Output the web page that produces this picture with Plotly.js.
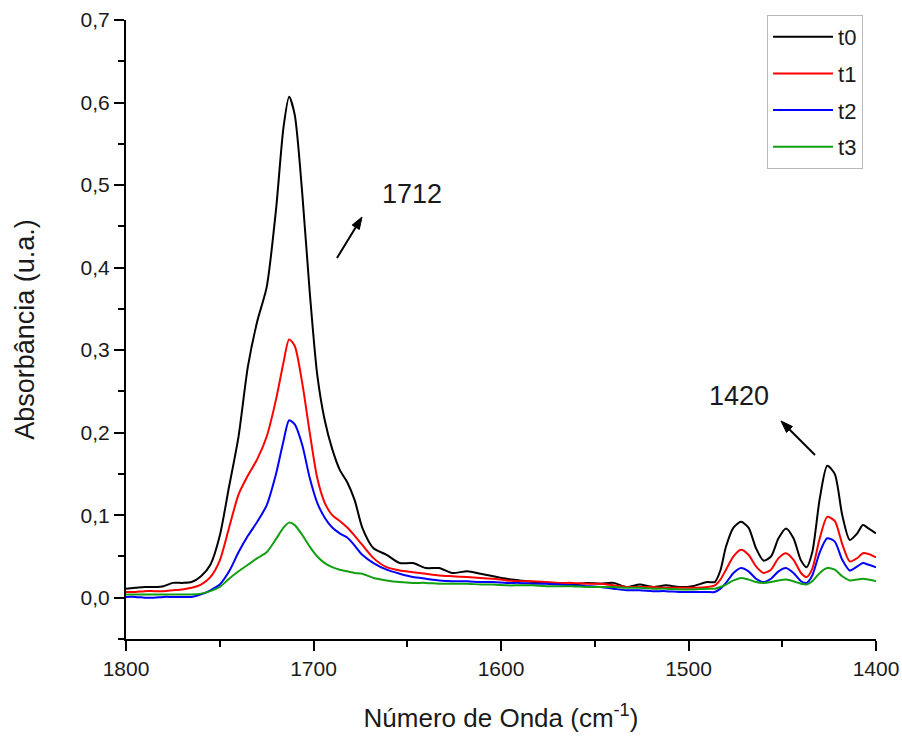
<!DOCTYPE html>
<html>
<head>
<meta charset="utf-8">
<script src="https://cdn.plot.ly/plotly-3.0.1.min.js"></script>
<style>html,body{margin:0;padding:0;background:#fff;}#chart{width:902px;height:747px;}</style>
</head>
<body>
<div id="chart"></div>
<script>
const wavenumber = [
  1800,1795,1790,1785,1780,1775,1770,1765,1760,1755,
  1750,1745,1740,1735,1730,1725,1720,1716,1713,1710,
  1706,1702,1698,1694,1690,1686,1682,1678,1674,1668,
  1661,1654,1647,1640,1633,1626,1618,1611,1604,1597,
  1590,1583,1576,1569,1562,1554,1547,1540,1533,1526,
  1519,1512,1505,1498,1490,1486,1483,1480,1476,1472,
  1468,1464,1460,1456,1452,1448,1444,1440,1437,1434,
  1430,1426,1422,1418,1414,1410,1407,1404,1400
];
const t0 = [
  0.011,0.012,0.013,0.013,0.014,0.018,0.018,0.019,0.026,0.040,
  0.075,0.135,0.195,0.280,0.335,0.376,0.470,0.570,0.607,0.585,
  0.490,0.370,0.270,0.215,0.180,0.155,0.140,0.118,0.085,0.060,
  0.052,0.042,0.042,0.036,0.036,0.030,0.032,0.029,0.026,0.023,
  0.021,0.019,0.018,0.017,0.016,0.018,0.017,0.018,0.013,0.016,
  0.013,0.015,0.013,0.014,0.019,0.019,0.033,0.062,0.085,0.092,
  0.085,0.060,0.045,0.050,0.072,0.084,0.072,0.045,0.037,0.055,
  0.120,0.160,0.150,0.100,0.070,0.078,0.088,0.084,0.078
];
const t1 = [
  0.007,0.007,0.008,0.008,0.008,0.009,0.010,0.012,0.016,0.025,
  0.045,0.085,0.125,0.148,0.168,0.195,0.240,0.285,0.313,0.305,
  0.260,0.200,0.145,0.115,0.100,0.093,0.085,0.075,0.064,0.048,
  0.037,0.033,0.031,0.029,0.027,0.026,0.025,0.024,0.023,0.021,
  0.020,0.020,0.019,0.018,0.018,0.017,0.017,0.015,0.013,0.013,
  0.013,0.012,0.012,0.012,0.013,0.015,0.022,0.034,0.050,0.058,
  0.052,0.038,0.030,0.034,0.048,0.054,0.046,0.030,0.025,0.035,
  0.072,0.098,0.093,0.065,0.044,0.048,0.054,0.053,0.049
];
const t2 = [
  0.001,0.001,0.000,0.000,0.001,0.001,0.001,0.001,0.004,0.009,
  0.016,0.032,0.055,0.075,0.092,0.112,0.150,0.190,0.215,0.210,
  0.185,0.145,0.115,0.097,0.085,0.078,0.073,0.063,0.052,0.042,
  0.034,0.029,0.025,0.023,0.021,0.020,0.020,0.019,0.019,0.018,
  0.018,0.017,0.017,0.016,0.015,0.014,0.013,0.011,0.009,0.009,
  0.008,0.008,0.007,0.007,0.007,0.007,0.011,0.018,0.030,0.036,
  0.032,0.023,0.019,0.023,0.032,0.036,0.030,0.020,0.018,0.027,
  0.055,0.072,0.068,0.046,0.033,0.038,0.042,0.040,0.037
];
const t3 = [
  0.004,0.004,0.004,0.004,0.004,0.004,0.004,0.004,0.005,0.008,
  0.013,0.023,0.032,0.040,0.048,0.055,0.071,0.085,0.091,0.088,
  0.076,0.062,0.050,0.042,0.037,0.034,0.032,0.030,0.029,0.024,
  0.021,0.019,0.018,0.018,0.017,0.017,0.017,0.016,0.016,0.015,
  0.015,0.015,0.014,0.014,0.014,0.013,0.013,0.013,0.012,0.012,
  0.011,0.011,0.010,0.010,0.011,0.011,0.013,0.016,0.021,0.024,
  0.022,0.019,0.018,0.019,0.021,0.022,0.020,0.017,0.016,0.020,
  0.030,0.036,0.034,0.026,0.021,0.022,0.023,0.022,0.020
];
const seriesNames = ['t0','t1','t2','t3'];
const seriesColors = ['#000000','#ff0000','#0000ff','#12a012'];
const yTickVals = [0,0.1,0.2,0.3,0.4,0.5,0.6,0.7];
const xTickVals = [1800,1700,1600,1500,1400];
const peakLabels = ['1712','1420'];

const font = 'Liberation Sans, Arial, sans-serif';
const txtColor = '#1a1a1a';
const allY = [t0,t1,t2,t3];
const traces = allY.map((y,i)=>({
  type:'scatter', mode:'lines', x:wavenumber, y:y, name:seriesNames[i],
  legendgroup:'g'+i,
  line:{color:seriesColors[i], width:2, shape:'spline', smoothing:0.7},
  hoverinfo:'skip'
}));

// plot geometry (pixels) used only to place the decorative arrows
const M = {l:126, r:26, t:20, b:108};
const W = 902 - M.l - M.r, H = 747 - M.t - M.b;
const XR = [1800,1400], YR = [-0.05,0.7];
const px2x = px => XR[0] + (px - M.l) * (XR[1]-XR[0]) / W;
const py2y = py => YR[1] - (py - M.t) * (YR[1]-YR[0]) / H;
function arrowShapes(tail, head){
  const dx = head[0]-tail[0], dy = head[1]-tail[1];
  const len = Math.hypot(dx,dy), ux = dx/len, uy = dy/len;
  const hl = 12, hw = 4.2;
  const bx = head[0]-hl*ux, by = head[1]-hl*uy;
  const nx = -uy, ny = ux;
  const p1 = [bx+hw*nx, by+hw*ny], p2 = [bx-hw*nx, by-hw*ny];
  return [
    {type:'line', xref:'x', yref:'y', x0:px2x(tail[0]), y0:py2y(tail[1]), x1:px2x(bx), y1:py2y(by),
     line:{color:'#000', width:2}},
    {type:'path', xref:'x', yref:'y',
     path:`M ${px2x(head[0])},${py2y(head[1])} L ${px2x(p1[0])},${py2y(p1[1])} L ${px2x(p2[0])},${py2y(p2[1])} Z`,
     fillcolor:'#000', line:{color:'#000', width:1}}
  ];
}
const shapes = [].concat(arrowShapes([337,258],[362,217]), arrowShapes([815,455],[781,421]));

const layout = {
  width:902, height:747,
  margin:M,
  paper_bgcolor:'#fff', plot_bgcolor:'#fff',
  separators:',.',
  font:{family:font, color:txtColor},
  showlegend:true,
  legend:{x:0.8547, y:1.008, xanchor:'left', yanchor:'top',
    bordercolor:'#b8b8b8', borderwidth:1, bgcolor:'#fff',
    font:{size:22, family:font, color:txtColor},
    traceorder:'grouped', tracegroupgap:5, itemwidth:60},
  xaxis:{range:XR, autorange:false, showgrid:false, zeroline:false,
    showline:true, linecolor:'#000', linewidth:2,
    ticks:'outside', ticklen:10, tickwidth:2, tickcolor:'#000',
    tickvals:xTickVals, ticktext:xTickVals.map(String),
    tickfont:{size:21, family:font, color:txtColor},
    minor:{ticks:'outside', ticklen:6, tickwidth:2, tickcolor:'#000', dtick:50, tick0:1800},
    title:{text:'Número de Onda (cm<sup>-1</sup>)', font:{size:26, family:font, color:txtColor}, standoff:30}
  },
  yaxis:{range:YR, autorange:false, showgrid:false, zeroline:false,
    showline:true, linecolor:'#000', linewidth:2,
    ticks:'outside', ticklen:10, tickwidth:2, tickcolor:'#000',
    tickvals:yTickVals, tickformat:'.1f',
    tickfont:{size:21, family:font, color:txtColor},
    minor:{ticks:'outside', ticklen:6, tickwidth:2, tickcolor:'#000', dtick:0.05, tick0:0},
    title:{text:'Absorbância (u.a.)', font:{size:27, family:font, color:txtColor}, standoff:38}
  },
  shapes:shapes,
  annotations:[
    {x:px2x(412), y:py2y(194), xref:'x', yref:'y', showarrow:false, text:peakLabels[0],
     font:{size:27, family:font, color:txtColor}},
    {x:px2x(739), y:py2y(396), xref:'x', yref:'y', showarrow:false, text:peakLabels[1],
     font:{size:27, family:font, color:txtColor}}
  ]
};
Plotly.newPlot('chart', traces, layout, {staticPlot:true, displayModeBar:false});
</script>
</body>
</html>
